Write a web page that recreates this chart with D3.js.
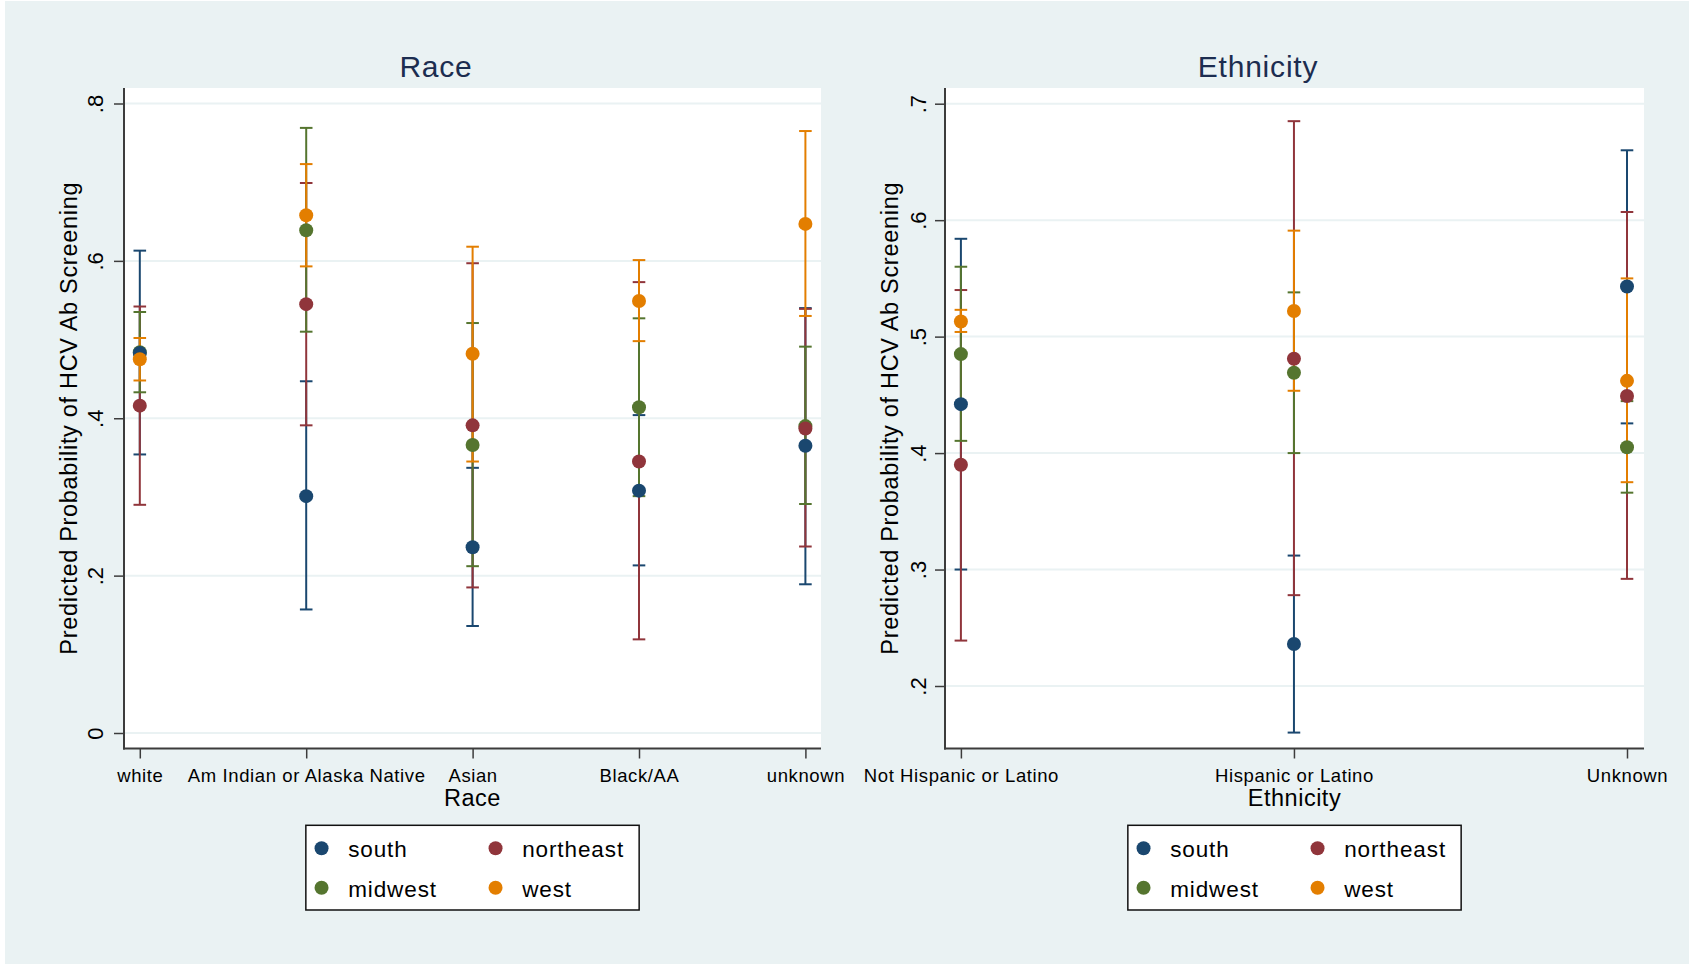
<!DOCTYPE html>
<html>
<head>
<meta charset="utf-8">
<script src="https://cdn.jsdelivr.net/npm/d3@7"></script>
<style>
  html, body { margin: 0; padding: 0; background: #ffffff; }
  svg { display: block; font-family: "Liberation Sans", Arial, Helvetica, sans-serif; }
</style>
</head>
<body>
<svg id="chart" width="1689" height="964"></svg>
<script>
// ---- Data: predicted probability of HCV Ab screening with 95% CIs, by region ----
const seriesNames = ["south", "northeast", "midwest", "west"];
const seriesColors = ["#1a476f", "#90353b", "#55752f", "#e37e00"];

// Race panel
const raceCategories = ["white", "Am Indian or Alaska Native", "Asian", "Black/AA", "unknown"];
const raceTicks = [0, 0.2, 0.4, 0.6, 0.8];
const raceSouth      = [0.483, 0.301, 0.236, 0.308, 0.365];
const raceSouthLo    = [0.354, 0.157, 0.136, 0.213, 0.189];
const raceSouthHi    = [0.613, 0.447, 0.337, 0.404, 0.540];
const raceNortheast   = [0.416, 0.545, 0.391, 0.345, 0.387];
const raceNortheastLo = [0.290, 0.391, 0.185, 0.119, 0.237];
const raceNortheastHi = [0.542, 0.699, 0.597, 0.573, 0.539];
const raceMidwest    = [0.484, 0.639, 0.366, 0.414, 0.390];
const raceMidwestLo  = [0.433, 0.510, 0.212, 0.301, 0.291];
const raceMidwestHi  = [0.535, 0.769, 0.521, 0.527, 0.491];
const raceWest       = [0.475, 0.658, 0.482, 0.549, 0.647];
const raceWestLo     = [0.448, 0.593, 0.345, 0.498, 0.530];
const raceWestHi     = [0.502, 0.723, 0.618, 0.601, 0.765];

// Ethnicity panel
const ethCategories = ["Not Hispanic or Latino", "Hispanic or Latino", "Unknown"];
const ethTicks = [0.2, 0.3, 0.4, 0.5, 0.6, 0.7];
const ethSouth       = [0.442, 0.236, 0.543];
const ethSouthLo     = [0.300, 0.160, 0.4255];
const ethSouthHi     = [0.584, 0.312, 0.660];
const ethNortheast   = [0.390, 0.481, 0.449];
const ethNortheastLo = [0.239, 0.278, 0.292];
const ethNortheastHi = [0.540, 0.685, 0.607];
const ethMidwest     = [0.485, 0.469, 0.405];
const ethMidwestLo   = [0.4105, 0.400, 0.366];
const ethMidwestHi   = [0.560, 0.538, 0.4446];
const ethWest        = [0.513, 0.522, 0.462];
const ethWestLo      = [0.504, 0.4535, 0.375];
const ethWestHi      = [0.523, 0.591, 0.550];

const yTitle = "Predicted Probability of HCV Ab Screening";

// ---- Panel layout ----
const panels = [
  {
    title: "Race", xTitle: "Race", titleX: 436,
    categories: raceCategories, ticks: raceTicks,
    est: [raceSouth, raceNortheast, raceMidwest, raceWest],
    lo:  [raceSouthLo, raceNortheastLo, raceMidwestLo, raceWestLo],
    hi:  [raceSouthHi, raceNortheastHi, raceMidwestHi, raceWestHi],
    plot: { x0: 124, x1: 821, y0: 88, y1: 748.5 },
    xRange: [139.8, 805.4], yDomain: [0, 0.8], yRange: [733, 103.5],
    tickLabelX: 102.5, yTitleX: 77
  },
  {
    title: "Ethnicity", xTitle: "Ethnicity", titleX: 1258,
    categories: ethCategories, ticks: ethTicks,
    est: [ethSouth, ethNortheast, ethMidwest, ethWest],
    lo:  [ethSouthLo, ethNortheastLo, ethMidwestLo, ethWestLo],
    hi:  [ethSouthHi, ethNortheastHi, ethMidwestHi, ethWestHi],
    plot: { x0: 945, x1: 1644, y0: 88, y1: 748.5 },
    xRange: [960.9, 1627], yDomain: [0.2, 0.7], yRange: [686, 103.7],
    tickLabelX: 926, yTitleX: 898
  }
];

const svg = d3.select("#chart");
const regionBg = "#eaf2f3";
const axisColor = "#3c3c3c";

// graph region background
svg.append("rect").attr("x", 5).attr("y", 1).attr("width", 1689 - 5).attr("height", 964 - 1)
  .attr("fill", regionBg);

const tickFmt = d => d === 0 ? "0" : d3.format(".1f")(d).replace(/^0/, "");

panels.forEach(p => {
  const g = svg.append("g");
  const x = d3.scaleLinear().domain([0, p.categories.length - 1]).range(p.xRange);
  const y = d3.scaleLinear().domain(p.yDomain).range(p.yRange);
  const pl = p.plot;

  // plot region
  g.append("rect").attr("x", pl.x0).attr("y", pl.y0)
    .attr("width", pl.x1 - pl.x0).attr("height", pl.y1 - pl.y0).attr("fill", "#ffffff");

  // horizontal grid lines
  g.append("g").selectAll("line").data(p.ticks).join("line")
    .attr("x1", pl.x0).attr("x2", pl.x1)
    .attr("y1", d => y(d)).attr("y2", d => y(d))
    .attr("stroke", regionBg).attr("stroke-width", 2);

  // y axis (ticks + rotated labels)
  const yAxis = d3.axisLeft(y).tickValues(p.ticks).tickFormat(tickFmt).tickSize(10).tickSizeOuter(0);
  const ya = g.append("g").attr("transform", `translate(${pl.x0},0)`).call(yAxis);
  ya.select(".domain").remove();
  ya.selectAll(".tick line").attr("stroke", axisColor).attr("stroke-width", 1.5);
  ya.selectAll(".tick text")
    .attr("x", null).attr("dy", null)
    .attr("transform", `translate(${p.tickLabelX - pl.x0},0) rotate(-90)`)
    .attr("text-anchor", "middle")
    .attr("fill", "#000")
    .style("font-size", "22px")
    .style("font-family", "'Liberation Sans', Arial, sans-serif");

  // x axis (ticks + category labels)
  const xAxis = d3.axisBottom(x).tickValues(d3.range(p.categories.length))
    .tickFormat(i => p.categories[i]).tickSize(10).tickSizeOuter(0);
  const xa = g.append("g").attr("transform", `translate(0,${pl.y1})`).call(xAxis);
  xa.select(".domain").remove();
  xa.selectAll(".tick line").attr("stroke", axisColor).attr("stroke-width", 1.5);
  xa.selectAll(".tick text")
    .attr("y", 33).attr("dy", null)
    .attr("fill", "#000")
    .style("font-size", "18.5px")
    .style("letter-spacing", "0.6px")
    .style("font-family", "'Liberation Sans', Arial, sans-serif");

  // axis lines
  g.append("line").attr("x1", pl.x0).attr("x2", pl.x0).attr("y1", pl.y0).attr("y2", pl.y1 + 1)
    .attr("stroke", axisColor).attr("stroke-width", 2);
  g.append("line").attr("x1", pl.x0 - 1).attr("x2", pl.x1).attr("y1", pl.y1).attr("y2", pl.y1)
    .attr("stroke", axisColor).attr("stroke-width", 2);

  // titles
  g.append("text").attr("x", p.titleX).attr("y", 76.5).attr("text-anchor", "middle")
    .attr("fill", "#1c2d50").style("font-size", "30px").style("letter-spacing", "0.8px")
    .text(p.title);
  g.append("text").attr("x", (pl.x0 + pl.x1) / 2).attr("y", 805.5).attr("text-anchor", "middle")
    .attr("fill", "#000").style("font-size", "23.5px").style("letter-spacing", "0.5px")
    .text(p.xTitle);
  const yMid = (pl.y0 + pl.y1) / 2;
  g.append("text").attr("transform", `translate(${p.yTitleX},${yMid}) rotate(-90)`)
    .attr("text-anchor", "middle").attr("fill", "#000")
    .style("font-size", "23.5px").style("letter-spacing", "0.7px")
    .text(yTitle);

  // confidence-interval caps and bars, series in order (west drawn last)
  const capHalf = 6.3;
  seriesNames.forEach((name, s) => {
    const rows = p.categories.map((c, i) => ({ i, lo: p.lo[s][i], hi: p.hi[s][i] }));
    const cg = g.append("g").attr("stroke", seriesColors[s]).attr("stroke-width", 2);
    cg.selectAll("line.bar").data(rows).join("line").attr("class", "bar")
      .attr("x1", d => x(d.i)).attr("x2", d => x(d.i))
      .attr("y1", d => y(d.lo)).attr("y2", d => y(d.hi));
    cg.selectAll("line.caplo").data(rows).join("line").attr("class", "caplo")
      .attr("x1", d => x(d.i) - capHalf).attr("x2", d => x(d.i) + capHalf)
      .attr("y1", d => y(d.lo)).attr("y2", d => y(d.lo));
    cg.selectAll("line.caphi").data(rows).join("line").attr("class", "caphi")
      .attr("x1", d => x(d.i) - capHalf).attr("x2", d => x(d.i) + capHalf)
      .attr("y1", d => y(d.hi)).attr("y2", d => y(d.hi));
  });

  // point estimates; within a category the lower estimate sits on top
  const pts = [];
  seriesNames.forEach((name, s) => {
    p.categories.forEach((c, i) => pts.push({ s, i, v: p.est[s][i] }));
  });
  pts.sort((a, b) => (a.i - b.i) || (b.v - a.v));
  g.append("g").selectAll("circle").data(pts).join("circle")
    .attr("cx", d => x(d.i)).attr("cy", d => y(d.v)).attr("r", 7)
    .attr("fill", d => seriesColors[d.s]);

  // legend
  const cx = (pl.x0 + pl.x1) / 2;
  const lw = 333.3, lh = 84.7;
  const lg = g.append("g").attr("transform", `translate(${cx - lw / 2},825.3)`);
  lg.append("rect").attr("width", lw).attr("height", lh)
    .attr("fill", "#ffffff").attr("stroke", "#111").attr("stroke-width", 1.5);
  const items = lg.selectAll("g.item").data(seriesNames).join("g").attr("class", "item")
    .attr("transform", (d, k) => `translate(${(k % 2) * 174},${Math.floor(k / 2) * 39.5})`);
  items.append("circle").attr("cx", 15.7).attr("cy", 23).attr("r", 7)
    .attr("fill", (d, k) => seriesColors[k]);
  items.append("text").attr("x", 42.3).attr("y", 32)
    .attr("fill", "#000").style("font-size", "22.5px").style("letter-spacing", "0.9px")
    .text(d => d);
});
</script>
</body>
</html>
